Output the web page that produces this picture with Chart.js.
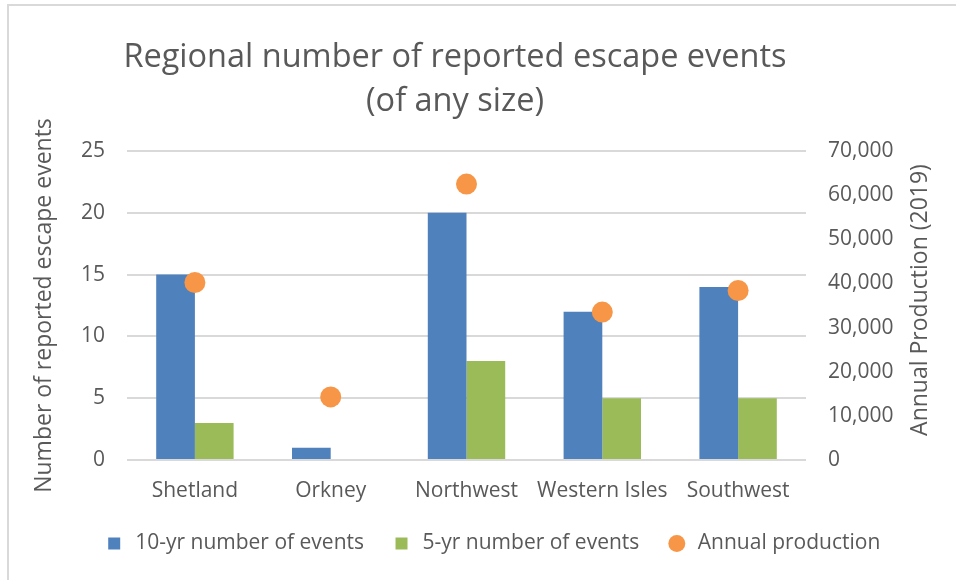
<!DOCTYPE html>
<html>
<head>
<meta charset="utf-8">
<script src="https://cdn.jsdelivr.net/npm/chart.js@4"></script>
<style>
  html, body { margin: 0; padding: 0; background: #fff; overflow: hidden; }
  #frame { position: absolute; left: 7px; top: 4px; width: 980px; height: 600px;
           border-top: 2px solid #d9d9d9; border-left: 2px solid #d9d9d9; }
  #wrap { position: absolute; left: 0; top: 0; width: 956px; height: 580px; }
</style>
</head>
<body>
<div id="frame"></div>
<div id="wrap"><canvas id="myChart"></canvas></div>
<script>
// data
const regions = ['Shetland', 'Orkney', 'Northwest', 'Western Isles', 'Southwest'];
const events10yr = [15, 1, 20, 12, 14];
const events5yr = [3, 0, 8, 5, 5];
const production2019 = [40200, 14300, 62500, 33500, 38400];
const titleLines = ['Regional number of reported escape events', '(of any size)'];

const txt = '#595959';
const fam = '"Open Sans", sans-serif';

// title is not centred on the canvas in the original, and the right axis title
// reads bottom-to-top, so both are drawn here
const extraText = {
  id: 'extraText',
  afterDraw(chart) {
    const ctx = chart.ctx;
    ctx.save();
    ctx.fillStyle = txt;
    ctx.textAlign = 'center';
    ctx.textBaseline = 'middle';
    ctx.font = '32.5px ' + fam;
    ctx.fillText(titleLines[0], 455, 58);
    ctx.fillText(titleLines[1], 455, 102);
    ctx.translate(920, 300);
    ctx.rotate(-Math.PI / 2);
    ctx.font = '23px ' + fam;
    ctx.fillText('Annual Production (2019)', 0, 0);
    ctx.restore();
  }
};

const chartElement = document.getElementById('myChart');
const myChart = new Chart(chartElement, {
  data: {
    labels: regions,
    datasets: [
      {
        type: 'bar',
        label: '10-yr number of events',
        data: events10yr,
        backgroundColor: '#4f81bd',
        pointStyle: 'rect',
        yAxisID: 'y',
        order: 2
      },
      {
        type: 'bar',
        label: '5-yr number of events',
        data: events5yr,
        backgroundColor: '#9bbb59',
        pointStyle: 'rect',
        yAxisID: 'y',
        order: 2
      },
      {
        type: 'line',
        label: 'Annual production',
        data: production2019,
        showLine: false,
        pointStyle: 'circle',
        pointRadius: 10.5,
        pointHoverRadius: 10.5,
        backgroundColor: '#f79646',
        borderColor: '#f79646',
        borderWidth: 0,
        yAxisID: 'y1',
        order: 1
      }
    ]
  },
  options: {
    responsive: true,
    maintainAspectRatio: false,
    animation: false,
    datasets: {
      bar: { barPercentage: 1, categoryPercentage: 0.57 }
    },
    layout: { padding: { left: 28, right: 0, top: 151, bottom: 16 } },
    scales: {
      x: {
        grid: { display: false, drawTicks: false },
        border: { display: false },
        ticks: { color: txt, font: { family: fam, size: 21 }, padding: 18, maxRotation: 0 },
        afterFit: (s) => { s.height = 46; }
      },
      y: {
        position: 'left',
        min: 0,
        max: 25,
        grid: { color: '#d9d9d9', lineWidth: 2, drawTicks: false },
        border: { display: false },
        ticks: { stepSize: 5, color: txt, font: { family: fam, size: 21 }, padding: 22 },
        title: {
          display: true,
          text: 'Number of reported escape events',
          color: txt,
          font: { family: fam, size: 23 },
          padding: { top: 3, bottom: 0 }
        },
        afterFit: (s) => { s.width = 99; }
      },
      y1: {
        position: 'right',
        min: 0,
        max: 70000,
        grid: { drawOnChartArea: false, drawTicks: false },
        border: { display: false },
        ticks: {
          stepSize: 10000,
          color: txt,
          font: { family: fam, size: 21 },
          padding: 22,
          callback: (v) => v.toLocaleString('en-US')
        },
        afterFit: (s) => { s.width = 150; }
      }
    },
    plugins: {
      legend: {
        position: 'bottom',
        labels: {
          usePointStyle: true,
          boxHeight: 12,
          padding: 27,
          color: txt,
          font: { family: fam, size: 21 },
          sort: (a, b) => a.datasetIndex - b.datasetIndex
        }
      },
      tooltip: { enabled: false }
    }
  },
  plugins: [extraText]
});
</script>
</body>
</html>
